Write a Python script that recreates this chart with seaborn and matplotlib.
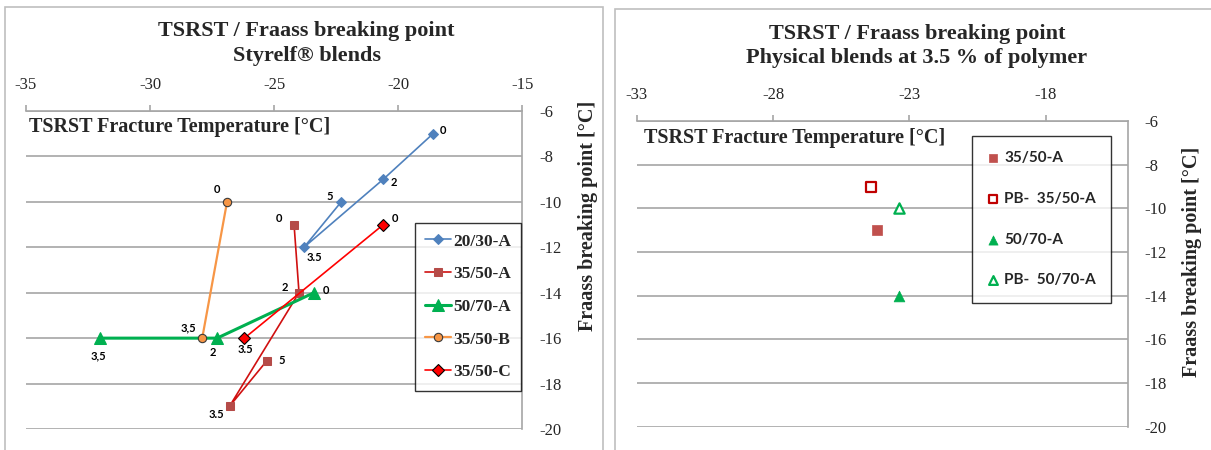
import matplotlib
matplotlib.use("Agg")
import matplotlib.pyplot as plt
from matplotlib.patches import Rectangle
import seaborn as sns
import pandas as pd

# --- data ---
# left chart: Styrelf blends, label = polymer content (%)
a2030_x = [-18.6, -20.6, -23.8, -22.3]
a2030_y = [-7, -9, -12, -10]
a2030_lab = ["0", "2", "3.5", "5"]

a3550_x = [-24.2, -24.0, -26.8, -25.3]
a3550_y = [-11, -14, -19, -17]
a3550_lab = ["0", "2", "3.5", "5"]

a5070_x = [-23.4, -27.3, -32.0]
a5070_y = [-14, -16, -16]
a5070_lab = ["0", "2", "3,5"]

b3550_x = [-26.9, -27.9]
b3550_y = [-10, -16]
b3550_lab = ["0", "3,5"]

c3550_x = [-20.6, -26.2]
c3550_y = [-11, -16]
c3550_lab = ["0", "3.5"]

# right chart: physical blends at 3.5 %
pb_names = ["35/50-A", "PB-  35/50-A", "50/70-A", "PB-  50/70-A"]
pb_x = [-24.2, -24.4, -23.4, -23.4]
pb_y = [-11, -9, -14, -10]

W, H = 1211, 450
SERIF = "Liberation Serif"
SANS = "Lato"

sns.set_style("white")
plt.rcParams["font.family"] = [SERIF, "DejaVu Sans"]

fig = plt.figure(figsize=(W / 100, H / 100), dpi=100)


def fx(px):
    return px / W


def fy(py):
    return 1 - py / H


# outer chart frames
fig.patches.append(Rectangle((fx(4.6), fy(470)), fx(603 - 4.6), 470 / H - 7 / H,
                             transform=fig.transFigure, fill=False,
                             edgecolor="#BFBFBF", lw=1.2))
fig.patches.append(Rectangle((fx(615), fy(470)), fx(640), 470 / H - 9 / H,
                             transform=fig.transFigure, fill=False,
                             edgecolor="#BFBFBF", lw=1.2))

ax1 = fig.add_axes([fx(26), fy(429), fx(522.4 - 26), (429 - 111) / H])
ax2 = fig.add_axes([fx(636.7), fy(426.7), fx(1127.6 - 636.7), (426.7 - 121) / H])

GRID = "#A6A6A6"


def style_axis(ax, xmin, xmax, xticks):
    ax.set_xlim(xmin, xmax)
    ax.set_ylim(-20, -6)
    ax.xaxis.tick_top()
    ax.yaxis.tick_right()
    ax.set_xticks(xticks)
    ax.set_yticks(range(-20, -5, 2))
    ax.set_xticklabels([str(t) for t in xticks])
    ax.set_yticklabels([str(t) for t in range(-20, -5, 2)])
    ax.grid(axis="y", color=GRID, lw=1.2)
    ax.grid(axis="x", visible=False)
    ax.set_axisbelow(True)
    for s in ["left", "bottom"]:
        ax.spines[s].set_visible(False)
    for s in ["top", "right"]:
        ax.spines[s].set_visible(True)
        ax.spines[s].set_color(GRID)
        ax.spines[s].set_linewidth(1.2)
    ax.tick_params(axis="x", top=True, bottom=False, direction="out", length=4,
                   color=GRID, width=1.2, labelsize=12, pad=9)
    ax.tick_params(axis="y", right=True, left=False, length=0, labelsize=12, pad=12)
    ax.set_xlabel("")
    ax.set_ylabel("")


# ---------- left chart ----------
series = [
    ("20/30-A", a2030_x, a2030_y, a2030_lab,
     dict(color="#4F81BD", lw=1.2, marker="D", ms=5.5, mfc="#4F81BD", mec="#4F81BD")),
    ("35/50-A", a3550_x, a3550_y, a3550_lab,
     dict(color="#D01010", lw=1.2, marker="s", ms=6, mfc="#B54B48", mec="#B54B48")),
    ("50/70-A", a5070_x, a5070_y, a5070_lab,
     dict(color="#00B050", lw=2.2, marker="^", ms=8, mfc="#00B050", mec="#00B050")),
    ("35/50-B", b3550_x, b3550_y, b3550_lab,
     dict(color="#F79646", lw=1.6, marker="o", ms=6, mfc="#F79646", mec="#3A3A3A", mew=0.8)),
    ("35/50-C", c3550_x, c3550_y, c3550_lab,
     dict(color="#FF0000", lw=1.2, marker="D", ms=6.5, mfc="#FF0000", mec="#000000", mew=0.8)),
]

# label offsets in pixels (dx right, dy up), same order as the points
offsets = {
    "20/30-A": [(10, 3), (10, -3), (10, -10), (-11, 5)],
    "35/50-A": [(-15, 6), (-14, 5), (-13, -8), (15, 0)],
    "50/70-A": [(12, 2), (-4, -14), (-2, -18)],
    "35/50-B": [(-10, 12), (-14, 10)],
    "35/50-C": [(12, 6), (1, -11)],
}

for name, xs, ys, labs, kw in series:
    df = pd.DataFrame({"x": xs, "y": ys})
    sns.lineplot(data=df, x="x", y="y", sort=False, estimator=None, ax=ax1,
                 label=name, **kw)
    for (x, y, t), (dx, dy) in zip(zip(xs, ys, labs), offsets[name]):
        ax1.annotate(t, (x, y), xytext=(dx * 0.72, dy * 0.72), textcoords="offset points",
                     ha="center", va="center", fontsize=8, fontweight="bold",
                     family=SANS, color="black")

style_axis(ax1, -35, -15, list(range(-35, -14, 5)))

leg1 = ax1.legend(loc="upper left", bbox_to_anchor=(fx(415), fy(223)),
                  bbox_transform=fig.transFigure, borderaxespad=0,
                  frameon=True, fancybox=False, edgecolor="black",
                  prop={"family": SERIF, "weight": "bold", "size": 12.5},
                  handlelength=1.45, handletextpad=0.15, labelspacing=0.95,
                  borderpad=0.6)
leg1.get_frame().set_linewidth(1.0)

fig.text(fx(306.6), fy(43.5), "TSRST / Fraass breaking point\nStyrelf\u00ae blends",
         ha="center", va="center", fontsize=16, fontweight="bold", family=SERIF,
         linespacing=1.35)
fig.text(fx(28.7), fy(127), "TSRST Fracture Temperature [\u00b0C]", ha="left",
         va="center", fontsize=14.5, fontweight="bold", family=SERIF)
fig.text(fx(588), fy(216), "Fraass breaking point [\u00b0C]", ha="center", va="center",
         rotation=90, fontsize=14.5, fontweight="bold", family=SERIF)

# ---------- right chart ----------
pb_styles = [
    dict(marker="s", s=50, color="#C0504D", edgecolor="#C0504D", linewidth=0.5),
    dict(marker="s", s=50, facecolor="white", edgecolor="#C00000", linewidth=1.6),
    dict(marker="^", s=60, color="#00B050", edgecolor="#00B050", linewidth=0.5),
    dict(marker="^", s=55, facecolor="white", edgecolor="#00B050", linewidth=1.6),
]
for name, x, y, st in zip(pb_names, pb_x, pb_y, pb_styles):
    sns.scatterplot(x=[x], y=[y], ax=ax2, label=name, **st)

style_axis(ax2, -33, -15, [-33, -28, -23, -18])

leg2 = ax2.legend(loc="upper left", bbox_to_anchor=(fx(972), fy(136)),
                  bbox_transform=fig.transFigure, borderaxespad=0,
                  frameon=True, fancybox=False, edgecolor="black",
                  prop={"family": SANS, "weight": "bold", "size": 11},
                  handlelength=0.8, handletextpad=0.3, labelspacing=1.75,
                  borderpad=1.0, markerscale=0.85)
leg2.get_frame().set_linewidth(1.0)

fig.text(fx(917), fy(46), "TSRST / Fraass breaking point\nPhysical blends at 3.5 % of polymer",
         ha="center", va="center", fontsize=16, fontweight="bold", family=SERIF,
         linespacing=1.3)
fig.text(fx(643.7), fy(138), "TSRST Fracture Temperature [\u00b0C]", ha="left",
         va="center", fontsize=14.5, fontweight="bold", family=SERIF)
fig.text(fx(1192), fy(262), "Fraass breaking point [\u00b0C]", ha="center", va="center",
         rotation=90, fontsize=14.5, fontweight="bold", family=SERIF)

fig.savefig("out.png", dpi=100)
